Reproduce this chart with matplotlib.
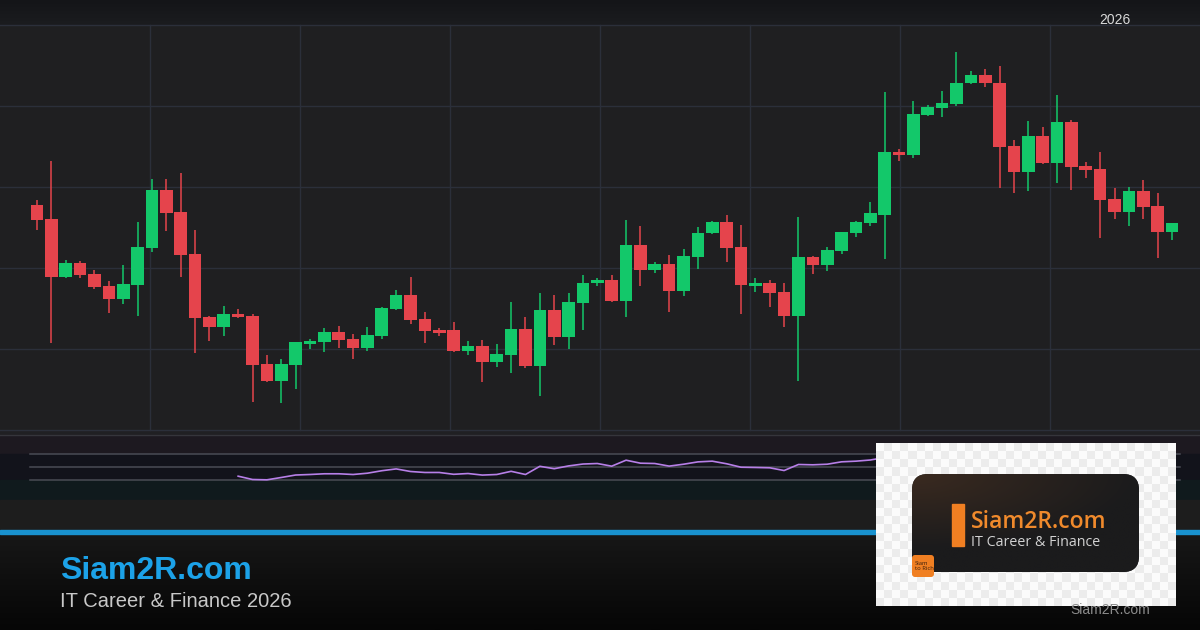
import numpy as np
import matplotlib
matplotlib.use("Agg")
import matplotlib.pyplot as plt
from matplotlib.patches import Rectangle, FancyBboxPatch

# ---------------- data ----------------
opens = [295, 281, 223, 237, 226, 214, 201, 215, 252, 310, 288, 246, 183, 173, 186, 184, 136, 119, 135, 156,
         158, 168, 161, 152, 164, 191, 205, 181, 170, 170, 149, 154, 138, 145, 171, 134, 190, 163, 197, 217,
         220, 199, 255, 230, 236, 209, 243, 267, 278, 253, 214, 217, 208, 184, 243, 235, 249, 267, 277, 285,
         348, 345, 385, 392, 396, 417, 425, 417, 354, 328, 364, 337, 378, 334, 331, 301, 288, 309, 294, 268]
highs = [300, 339, 240, 239, 230, 219, 235, 278, 321, 321, 327, 270, 184, 194, 191, 186, 145, 141, 158, 161,
         172, 174, 166, 173, 193, 210, 223, 188, 172, 178, 159, 160, 156, 198, 183, 207, 205, 207, 225, 222,
         225, 280, 274, 238, 245, 251, 273, 279, 285, 275, 222, 220, 217, 283, 244, 253, 268, 279, 298, 408,
         351, 399, 395, 409, 448, 429, 431, 434, 360, 379, 373, 405, 380, 338, 348, 312, 313, 320, 307, 277]
lows = [270, 157, 222, 222, 211, 187, 196, 184, 248, 269, 223, 147, 159, 164, 182, 98, 118, 97, 111, 151,
        148, 152, 141, 149, 161, 190, 176, 157, 164, 148, 145, 118, 133, 127, 132, 104, 155, 151, 170, 214,
        198, 183, 214, 227, 188, 204, 231, 266, 238, 186, 208, 193, 173, 119, 226, 229, 246, 263, 274, 241,
        339, 342, 384, 383, 394, 416, 413, 312, 307, 309, 336, 317, 310, 322, 262, 281, 274, 281, 242, 260]
closes = [280, 223, 237, 225, 213, 201, 216, 253, 310, 287, 245, 182, 173, 186, 183, 135, 119, 136, 158, 159,
          168, 160, 152, 165, 192, 205, 180, 169, 167, 149, 154, 138, 146, 171, 134, 190, 163, 198, 217, 220,
          199, 255, 230, 236, 209, 244, 267, 278, 252, 215, 217, 207, 184, 243, 235, 250, 268, 278, 287, 348,
          345, 386, 393, 397, 417, 425, 417, 353, 328, 364, 337, 378, 333, 330, 300, 288, 309, 293, 268, 277]

rsi_start = 14  # index of first RSI value
rsi_values = [35.1, 30.0, 29.5, 33.1, 36.9, 37.7, 38.8, 38.8, 37.7, 39.7, 43.5, 46.3, 42.3, 40.8, 40.8,
              38.0, 39.2, 36.8, 37.7, 42.6, 37.7, 50.3, 46.6, 50.9, 53.8, 54.6, 50.5, 59.7, 55.1, 54.6,
              50.6, 53.5, 57.1, 58.2, 54.2, 48.9, 48.5, 48.0, 43.8, 53.1, 52.6, 53.5, 57.2, 58.2, 60.0, 63.8]
rsi_levels = [70, 50, 30]

year_label = "2026"
brand = "Siam2R.com"
tagline = "IT Career & Finance 2026"
logo_tag = "IT Career & Finance"

# ---------------- style ----------------
W, H = 1200, 630
GREEN = "#13c86a"
RED = "#e5444c"
GRID = "#2b2f3a"

fig = plt.figure(figsize=(12, 6.3), dpi=100)
fig.patch.set_facecolor("#1f1f21")

bg = fig.add_axes([0, 0, 1, 1])
bg.set_xlim(0, W)
bg.set_ylim(H, 0)
bg.axis("off")

def vgrad(ax, x0, x1, y0, y1, c_top, c_bot, z):
    c1 = np.array(matplotlib.colors.to_rgb(c_top))
    c2 = np.array(matplotlib.colors.to_rgb(c_bot))
    t = np.linspace(0, 1, 64)[:, None]
    img = (c1 * (1 - t) + c2 * t)[:, None, :]
    ax.imshow(img, extent=(x0, x1, y1, y0), aspect="auto", zorder=z, interpolation="bilinear")

# top strip and chart area
vgrad(bg, 0, W, 0, 25, "#141518", "#1b1c1f", 0)
bg.add_patch(Rectangle((0, 25), W, 405, color="#1f1f21", zorder=0))
# grid
for gy in [25, 106, 187, 268, 349, 430]:
    bg.plot([0, W], [gy, gy], color=GRID, lw=1, zorder=1)
for gx in [150, 300, 450, 600, 750, 900, 1050]:
    bg.plot([gx, gx], [25, 430], color=GRID, lw=1, zorder=1)

# separator + RSI bands
bg.add_patch(Rectangle((0, 430), W, 5, color="#202023", zorder=0))
bg.plot([0, W], [435, 435], color="#35353b", lw=1, zorder=1)
bg.add_patch(Rectangle((0, 435), W, 19, color="#1d1920", zorder=0))
bg.add_patch(Rectangle((0, 454), W, 26, color="#12131b", zorder=0))
bg.add_patch(Rectangle((0, 480), W, 20, color="#101a1d", zorder=0))
bg.add_patch(Rectangle((0, 500), W, 30, color="#1d1d1d", zorder=0))
bg.add_patch(Rectangle((0, 530), W, 4, color="#1992cf", zorder=2))
vgrad(bg, 0, W, 534, H, "#171717", "#060606", 0)

bg.text(1115, 20, year_label, color="#d9d9d9", fontsize=10, ha="center", va="center",
        family="Liberation Sans", zorder=3)
bg.text(60, 579, brand, color="#1ca2e8", fontsize=23, fontweight="bold", family="Liberation Sans",
        ha="left", va="baseline", zorder=3)
bg.text(60, 607, tagline, color="#c8c8c8", fontsize=14.5, family="Liberation Sans",
        ha="left", va="baseline", zorder=3)

# ---------------- candles ----------------
n = len(opens)
idx = np.arange(n)
x_first, step = 37.0, (1172.0 - 37.0) / 79.0
xl = (-x_first / step, (W - x_first) / step)

ax = fig.add_axes([0, (H - 430) / H, 1, 405 / H])
ax.set_facecolor("none")
ax.set_xlim(*xl)
ax.set_ylim(70, 475)
ax.axis("off")

o = np.array(opens); c = np.array(closes); h = np.array(highs); l = np.array(lows)
up = c >= o
cols = np.where(up, GREEN, RED)
ax.vlines(idx, l, h, colors=cols, lw=1.1, zorder=2)
bottom = np.minimum(o, c)
height = np.maximum(np.abs(c - o), 1.5)
ax.bar(idx, height, bottom=bottom, width=0.88, color=cols, zorder=3, linewidth=0)

# ---------------- RSI ----------------
rax = fig.add_axes([0, (H - 499) / H, 1, 65 / H])
rax.set_facecolor("none")
rax.set_xlim(*xl)
rax.set_ylim(0, 100)
rax.axis("off")
for lv in rsi_levels:
    rax.axhline(lv, xmin=30 / W, xmax=1180 / W, color="#4a4c55", lw=1.1, zorder=1)
rx = np.arange(rsi_start, rsi_start + len(rsi_values))
rax.plot(rx, rsi_values, color="#b77fe8", lw=1.2, zorder=2)

# ---------------- logo box ----------------
lg = fig.add_axes([0, 0, 1, 1])
lg.set_facecolor("none")
lg.axis("off")
bx0, bx1, by0, by1 = 876, 1176, 443, 606
ny, nx = 20, 37
chk = (np.add.outer(np.arange(ny), np.arange(nx)) % 2).astype(float)
cmap = matplotlib.colors.ListedColormap(["#fbfbfb", "#ececec"])
lg.imshow(chk, extent=(bx0, bx1, by1, by0), cmap=cmap, interpolation="nearest",
          aspect="auto", zorder=1)

card = FancyBboxPatch((912, 474), 227, 98, boxstyle="round,pad=0,rounding_size=16",
                      facecolor="#1e1e1e", edgecolor="none", zorder=2)
lg.add_patch(card)
gx, gy = np.meshgrid(np.linspace(0, 1, 120), np.linspace(0, 1, 60))
d = np.clip(np.sqrt((gx * 1.0) ** 2 + (gy * 1.3) ** 2), 0, 1)
ca = np.array(matplotlib.colors.to_rgb("#3a2a20")); cb = np.array(matplotlib.colors.to_rgb("#1b1b1c"))
img = ca * (1 - d[..., None]) + cb * d[..., None]
im = lg.imshow(img, extent=(912, 1139, 572, 474), aspect="auto", zorder=2.1, interpolation="bilinear")
im.set_clip_path(card)
lg.add_patch(Rectangle((952, 504), 12, 42, color="#f07f22", zorder=3))
lg.text(971, 528, "Siam2R.com", color="#f08a2c", fontsize=16.5, family="Open Sans", fontweight="semibold",
        ha="left", va="baseline", zorder=3)
lg.text(971, 546, logo_tag, color="#d2d2d2", fontsize=10.3, family="Open Sans",
        ha="left", va="baseline", zorder=3)
lg.add_patch(FancyBboxPatch((912, 555), 22, 22, boxstyle="round,pad=0,rounding_size=3",
                            facecolor="#f07f22", edgecolor="none", zorder=3))
lg.text(915, 566, "Siam\nto Rich", color="#3a1e0c", fontsize=4.2, family="Open Sans",
        ha="left", va="center", linespacing=1.0, zorder=4)
lg.text(1110, 610, "Siam2R.com", color="#8c8c8c", fontsize=10, family="Liberation Sans",
        ha="center", va="center", zorder=3)
lg.set_xlim(0, W)
lg.set_ylim(H, 0)

fig.savefig("out.png", dpi=100, facecolor=fig.get_facecolor())
